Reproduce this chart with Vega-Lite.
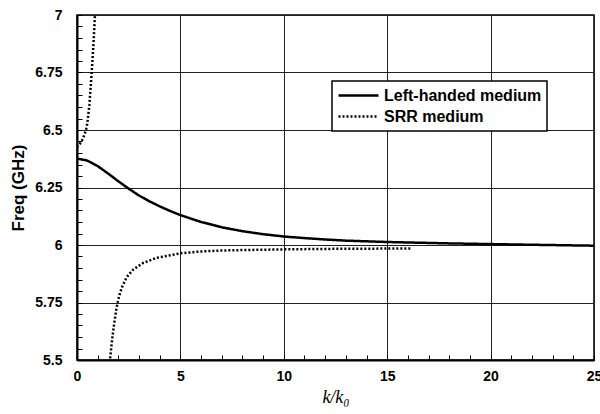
{
  "$schema": "https://vega.github.io/schema/vega-lite/v6.json",
  "width": 517,
  "height": 345,
  "autosize": {"type": "none"},
  "padding": {"left": 77, "top": 15, "right": 6, "bottom": 54},
  "background": "white",
  "config": {
    "view": {"stroke": "black", "strokeWidth": 1.5},
    "legend": {"strokeWidth": 1.5},
    "axis": {
      "labelFont": "Liberation Sans",
      "labelFontWeight": "bold",
      "labelFontSize": 14,
      "labelColor": "black",
      "domainColor": "black",
      "domainWidth": 2,
      "tickColor": "black",
      "tickWidth": 1,
      "gridColor": "#222222",
      "gridWidth": 1
    }
  },
  "data": {
    "values": [
      {"k": 0, "f": 6.376, "series": "Left-handed medium", "branch": "LH"},
      {"k": 0.5, "f": 6.367, "series": "Left-handed medium", "branch": "LH"},
      {"k": 1, "f": 6.343, "series": "Left-handed medium", "branch": "LH"},
      {"k": 1.5, "f": 6.311, "series": "Left-handed medium", "branch": "LH"},
      {"k": 2, "f": 6.277, "series": "Left-handed medium", "branch": "LH"},
      {"k": 2.5, "f": 6.245, "series": "Left-handed medium", "branch": "LH"},
      {"k": 3, "f": 6.215, "series": "Left-handed medium", "branch": "LH"},
      {"k": 3.5, "f": 6.19, "series": "Left-handed medium", "branch": "LH"},
      {"k": 4, "f": 6.168, "series": "Left-handed medium", "branch": "LH"},
      {"k": 4.5, "f": 6.148, "series": "Left-handed medium", "branch": "LH"},
      {"k": 5, "f": 6.13, "series": "Left-handed medium", "branch": "LH"},
      {"k": 6, "f": 6.1, "series": "Left-handed medium", "branch": "LH"},
      {"k": 7, "f": 6.077, "series": "Left-handed medium", "branch": "LH"},
      {"k": 8, "f": 6.06, "series": "Left-handed medium", "branch": "LH"},
      {"k": 9, "f": 6.047, "series": "Left-handed medium", "branch": "LH"},
      {"k": 10, "f": 6.037, "series": "Left-handed medium", "branch": "LH"},
      {"k": 11, "f": 6.03, "series": "Left-handed medium", "branch": "LH"},
      {"k": 12, "f": 6.024, "series": "Left-handed medium", "branch": "LH"},
      {"k": 13, "f": 6.019, "series": "Left-handed medium", "branch": "LH"},
      {"k": 14, "f": 6.016, "series": "Left-handed medium", "branch": "LH"},
      {"k": 15, "f": 6.013, "series": "Left-handed medium", "branch": "LH"},
      {"k": 16, "f": 6.011, "series": "Left-handed medium", "branch": "LH"},
      {"k": 18, "f": 6.007, "series": "Left-handed medium", "branch": "LH"},
      {"k": 20, "f": 6.004, "series": "Left-handed medium", "branch": "LH"},
      {"k": 22, "f": 6.001, "series": "Left-handed medium", "branch": "LH"},
      {"k": 25, "f": 5.997, "series": "Left-handed medium", "branch": "LH"},
      {"k": 0, "f": 6.425, "series": "SRR medium", "branch": "S1"},
      {"k": 0.1, "f": 6.435, "series": "SRR medium", "branch": "S1"},
      {"k": 0.2, "f": 6.448, "series": "SRR medium", "branch": "S1"},
      {"k": 0.3, "f": 6.465, "series": "SRR medium", "branch": "S1"},
      {"k": 0.435, "f": 6.5, "series": "SRR medium", "branch": "S1"},
      {"k": 0.5, "f": 6.53, "series": "SRR medium", "branch": "S1"},
      {"k": 0.6, "f": 6.61, "series": "SRR medium", "branch": "S1"},
      {"k": 0.71, "f": 6.75, "series": "SRR medium", "branch": "S1"},
      {"k": 0.8, "f": 6.88, "series": "SRR medium", "branch": "S1"},
      {"k": 0.88, "f": 7.02, "series": "SRR medium", "branch": "S1"},
      {"k": 1.58, "f": 5.49, "series": "SRR medium", "branch": "S2"},
      {"k": 1.7, "f": 5.59, "series": "SRR medium", "branch": "S2"},
      {"k": 1.8, "f": 5.66, "series": "SRR medium", "branch": "S2"},
      {"k": 1.9, "f": 5.72, "series": "SRR medium", "branch": "S2"},
      {"k": 2.0, "f": 5.765, "series": "SRR medium", "branch": "S2"},
      {"k": 2.1, "f": 5.797, "series": "SRR medium", "branch": "S2"},
      {"k": 2.2, "f": 5.822, "series": "SRR medium", "branch": "S2"},
      {"k": 2.4, "f": 5.86, "series": "SRR medium", "branch": "S2"},
      {"k": 2.7, "f": 5.892, "series": "SRR medium", "branch": "S2"},
      {"k": 3.2, "f": 5.922, "series": "SRR medium", "branch": "S2"},
      {"k": 3.85, "f": 5.944, "series": "SRR medium", "branch": "S2"},
      {"k": 5, "f": 5.964, "series": "SRR medium", "branch": "S2"},
      {"k": 6, "f": 5.972, "series": "SRR medium", "branch": "S2"},
      {"k": 7, "f": 5.976, "series": "SRR medium", "branch": "S2"},
      {"k": 8, "f": 5.978, "series": "SRR medium", "branch": "S2"},
      {"k": 10, "f": 5.981, "series": "SRR medium", "branch": "S2"},
      {"k": 12, "f": 5.983, "series": "SRR medium", "branch": "S2"},
      {"k": 14, "f": 5.984, "series": "SRR medium", "branch": "S2"},
      {"k": 16.2, "f": 5.985, "series": "SRR medium", "branch": "S2"}
    ]
  },
  "mark": {"type": "line", "clip": true, "color": "black", "strokeWidth": 2.5},
  "encoding": {
    "x": {
      "field": "k",
      "type": "quantitative",
      "scale": {"domain": [0, 25], "nice": false, "zero": false},
      "axis": {
        "title": "k/k₀",
        "titleFont": "Liberation Serif",
        "titleFontStyle": "italic",
        "titleFontWeight": "normal",
        "titleFontSize": 18,
        "titleColor": "black",
        "titlePadding": 5,
        "values": [0,1,2,3,4,5,6,7,8,9,10,11,12,13,14,15,16,17,18,19,20,21,22,23,24,25],
        "labelExpr": "datum.value % 5 === 0 ? datum.label : ''",
        "gridOpacity": {"condition": {"test": "datum.value % 5 === 0", "value": 1}, "value": 0},
        "tickSize": -5,
        "labelPadding": 14,
        "labelFlush": false
      }
    },
    "y": {
      "field": "f",
      "type": "quantitative",
      "scale": {"domain": [5.5, 7], "nice": false, "zero": false},
      "axis": {
        "title": "Freq (GHz)",
        "titleFont": "Liberation Sans",
        "titleFontWeight": "bold",
        "titleFontSize": 17,
        "titleColor": "black",
        "titlePadding": 7,
        "values": [5.5,5.55,5.6,5.65,5.7,5.75,5.8,5.85,5.9,5.95,6,6.05,6.1,6.15,6.2,6.25,6.3,6.35,6.4,6.45,6.5,6.55,6.6,6.65,6.7,6.75,6.8,6.85,6.9,6.95,7],
        "labelExpr": "abs(datum.value*4 - round(datum.value*4)) < 0.001 ? format(datum.value, '~g') : ''",
        "gridOpacity": {"condition": {"test": "abs(datum.value*4 - round(datum.value*4)) < 0.001", "value": 1}, "value": 0},
        "tickSize": -5,
        "labelPadding": 20,
        "labelFlush": false
      }
    },
    "strokeDash": {
      "field": "series",
      "type": "nominal",
      "scale": {"domain": ["Left-handed medium", "SRR medium"], "range": [[1, 0], [2, 2]]},
      "legend": {
        "title": null,
        "orient": "none",
        "legendX": 255,
        "legendY": 66,
        "strokeColor": "black",
        "fillColor": "white",
        "padding": 5,
        "symbolType": "M-2.5,-0.5M-2.5,0.5M-2.5,0H2.5",
        "symbolSize": 256,
        "symbolOffset": 12,
        "symbolStrokeColor": "black",
        "symbolStrokeWidth": 2.5,
        "labelFont": "Liberation Sans",
        "labelFontWeight": "bold",
        "labelFontSize": 16,
        "labelColor": "black",
        "labelOffset": 16,
        "rowPadding": 2,
        "encode": {"legend": {"update": {"stroke": {"value": "black"}, "strokeWidth": {"value": 1.5}, "fill": {"value": "white"}}}}
      }
    },
    "detail": {"field": "branch", "type": "nominal"}
  }
}
